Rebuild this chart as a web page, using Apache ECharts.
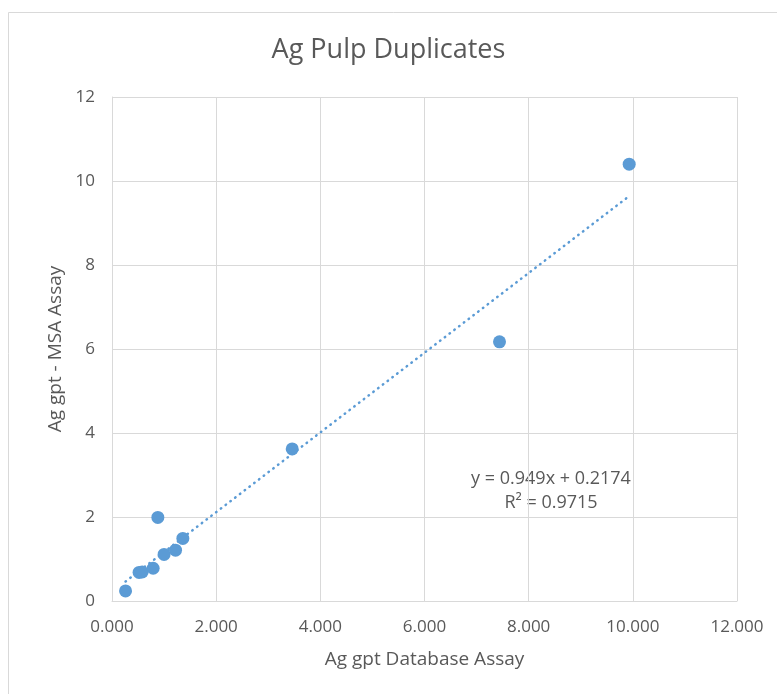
<!DOCTYPE html>
<html>
<head>
<meta charset="utf-8">
<style>
html,body{margin:0;padding:0;background:#fff;}
#chart{width:777px;height:694px;}
</style>
<script src="https://cdn.jsdelivr.net/npm/echarts@6/dist/echarts.min.js"></script>
</head>
<body>
<div id="chart"></div>
<script>
var databaseAssay = [0.26, 0.52, 0.58, 0.79, 1.00, 1.22, 1.36, 0.88, 3.46, 7.44, 9.93];
var msaAssay      = [0.24, 0.68, 0.69, 0.78, 1.11, 1.21, 1.49, 1.99, 3.62, 6.17, 10.40];
var xTicks = [0, 2, 4, 6, 8, 10, 12];
var yTicks = [0, 2, 4, 6, 8, 10, 12];
var trendSlope = 0.949;
var trendIntercept = 0.2174;
var equationLines = ['y = 0.949x + 0.2174', 'R² = 0.9715'];

var points = databaseAssay.map(function (x, i) { return [x, msaAssay[i]]; });
var xMin = Math.min.apply(null, databaseAssay);
var xMax = Math.max.apply(null, databaseAssay);
var trend = [[xMin, trendSlope * xMin + trendIntercept], [xMax, trendSlope * xMax + trendIntercept]];

var font = '"Open Sans", "Noto Sans", sans-serif';
var chart = echarts.init(document.getElementById('chart'));
chart.setOption({
  animation: false,
  backgroundColor: '#fff',
  title: {
    text: 'Ag Pulp Duplicates',
    left: 'center', top: 32,
    textStyle: { color: '#595959', fontSize: 27, fontWeight: 'normal', fontFamily: font }
  },
  grid: { left: 112, top: 97, right: 40, bottom: 93 },
  xAxis: {
    type: 'value', min: xTicks[0], max: xTicks[xTicks.length - 1], interval: 2,
    name: 'Ag gpt Database Assay', nameLocation: 'middle', nameGap: 49,
    nameTextStyle: { color: '#595959', fontSize: 19, fontFamily: font },
    axisLine: { show: true, lineStyle: { color: '#D9D9D9' } },
    axisTick: { show: false },
    axisLabel: { color: '#595959', fontSize: 17, fontFamily: font, margin: 18,
      formatter: function (v) { return v.toFixed(3); } },
    splitLine: { show: true, lineStyle: { color: '#D9D9D9' } }
  },
  yAxis: {
    type: 'value', min: yTicks[0], max: yTicks[yTicks.length - 1], interval: 2,
    name: 'Ag gpt - MSA Assay', nameLocation: 'middle', nameGap: 47,
    nameTextStyle: { color: '#595959', fontSize: 19, fontFamily: font },
    axisLine: { show: true, lineStyle: { color: '#D9D9D9' } },
    axisTick: { show: false },
    axisLabel: { color: '#595959', fontSize: 17, fontFamily: font, margin: 17 },
    splitLine: { show: true, lineStyle: { color: '#D9D9D9' } }
  },
  series: [
    {
      type: 'line', data: trend, symbol: 'none', silent: true,
      lineStyle: { color: '#5B9BD5', width: 2.5, type: [0.5, 5.5], cap: 'round' },
      z: 1
    },
    {
      type: 'scatter', data: points, symbolSize: 13,
      itemStyle: { color: '#5B9BD5', opacity: 1 },
      z: 2
    }
  ],
  graphic: [
    { type: 'rect', shape: { x: 8.5, y: 12.5, width: 800, height: 800 },
      style: { fill: 'none', stroke: '#D9D9D9', lineWidth: 1 }, silent: true, z: -1 },
    { type: 'text', x: 551, y: 470,
      style: { text: equationLines[0], fill: '#595959', fontSize: 18, fontFamily: font, align: 'center' } },
    { type: 'text', x: 551, y: 494,
      style: { text: equationLines[1], fill: '#595959', fontSize: 18, fontFamily: font, align: 'center' } }
  ]
});
</script>
</body>
</html>
